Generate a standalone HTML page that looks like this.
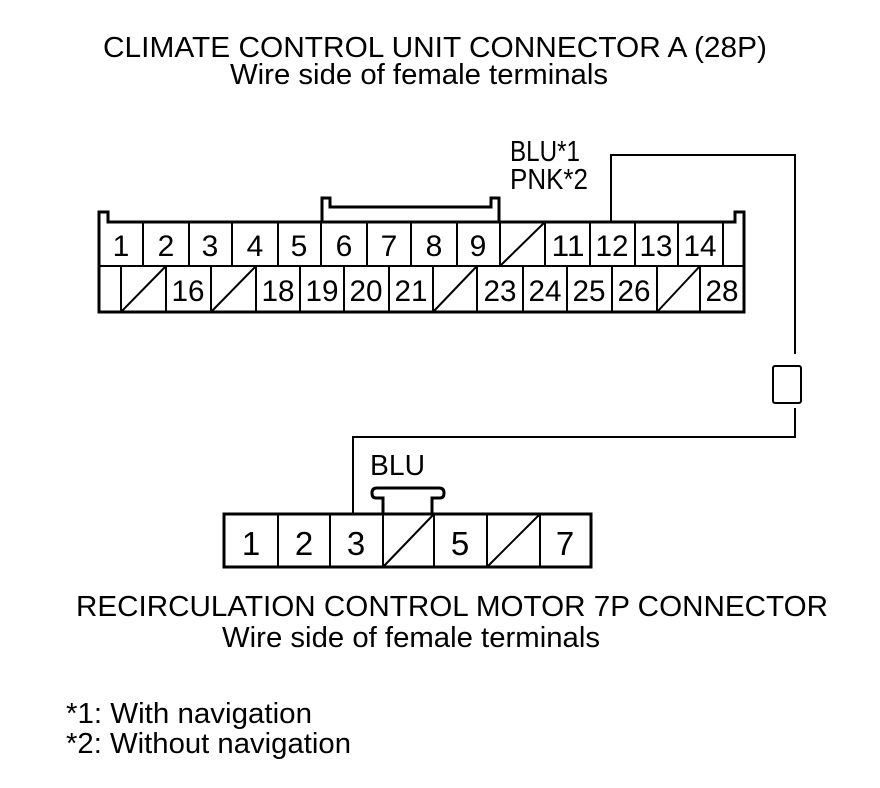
<!DOCTYPE html>
<html><head><meta charset="utf-8"><style>
html,body{margin:0;padding:0;background:#fff;}
svg{display:block;}
text{font-family:"Liberation Sans",sans-serif;fill:#000;}
</style></head><body>
<svg width="880" height="788" viewBox="0 0 880 788" xmlns="http://www.w3.org/2000/svg">
<g font-size="29">
<text x="103" y="57" textLength="664" lengthAdjust="spacingAndGlyphs">CLIMATE CONTROL UNIT CONNECTOR A (28P)</text>
<text x="230" y="84" textLength="378" lengthAdjust="spacingAndGlyphs">Wire side of female terminals</text>
<text x="510" y="161" textLength="70" lengthAdjust="spacingAndGlyphs">BLU*1</text>
<text x="510" y="189" textLength="78" lengthAdjust="spacingAndGlyphs">PNK*2</text>
<text x="76" y="616" textLength="752" lengthAdjust="spacingAndGlyphs">RECIRCULATION CONTROL MOTOR 7P CONNECTOR</text>
<text x="222" y="647" textLength="378" lengthAdjust="spacingAndGlyphs">Wire side of female terminals</text>
<text x="66" y="723" textLength="246" lengthAdjust="spacingAndGlyphs">*1: With navigation</text>
<text x="66" y="753" textLength="285" lengthAdjust="spacingAndGlyphs">*2: Without navigation</text>
<text x="370" y="475" textLength="55" lengthAdjust="spacingAndGlyphs">BLU</text>
</g>
<g fill="none" stroke="#000">
<path d="M99 312 V212 H108 V222 H735 V212 H744 V312 Z" stroke-width="3"/>
<path d="M322 222 V198 H330 V207 H491 V198 H499 V222" stroke-width="3"/>
<line x1="99" y1="266" x2="744" y2="266" stroke-width="2"/>
<g stroke-width="2">
<path d="M143 222V266M189 222V266M232 222V266M278 222V266M321 222V266M367 222V266M411 222V266M457 222V266M500 222V266M545 222V266M590 222V266M635 222V266M678 222V266M723 222V266"/>
<path d="M121 266V312M166 266V312M211 266V312M256 266V312M300 266V312M344 266V312M389 266V312M433 266V312M477 266V312M523 266V312M567 266V312M612 266V312M657 266V312M700 266V312"/>
<path d="M500 266L545 222M121 312L166 266M211 312L256 266M433 312L477 266M657 312L700 266"/>
</g>
<path d="M611 222 V155 H795 V354" stroke-width="2"/>
<rect x="773" y="366" width="28" height="37" rx="2" stroke-width="2"/>
<path d="M795 408 V437 H353 V514" stroke-width="2"/>
<rect x="224" y="514" width="367" height="53" stroke-width="3"/>
<path d="M383 514 V498 H376 Q372 498 372 493 Q372 488 377 488 H439 Q444 488 444 493 Q444 498 440 498 H432 V514" stroke-width="3"/>
<g stroke-width="2">
<path d="M278 514V567M330 514V567M383 514V567M434 514V567M487 514V567M540 514V567"/>
<path d="M383 567L434 514M487 567L540 514"/>
</g>
</g>
<g font-size="30" text-anchor="middle">
<text x="121" y="256">1</text><text x="166" y="256">2</text><text x="210" y="256">3</text><text x="255" y="256">4</text><text x="299" y="256">5</text><text x="344" y="256">6</text><text x="389" y="256">7</text><text x="434" y="256">8</text><text x="478" y="256">9</text>
<text x="568" y="256" textLength="33" lengthAdjust="spacingAndGlyphs">11</text><text x="612" y="256" textLength="33" lengthAdjust="spacingAndGlyphs">12</text><text x="656" y="256" textLength="33" lengthAdjust="spacingAndGlyphs">13</text><text x="700" y="256" textLength="33" lengthAdjust="spacingAndGlyphs">14</text>
<text x="188" y="301" textLength="33" lengthAdjust="spacingAndGlyphs">16</text><text x="278" y="301" textLength="33" lengthAdjust="spacingAndGlyphs">18</text><text x="322" y="301" textLength="33" lengthAdjust="spacingAndGlyphs">19</text><text x="366" y="301" textLength="33" lengthAdjust="spacingAndGlyphs">20</text><text x="411" y="301" textLength="33" lengthAdjust="spacingAndGlyphs">21</text><text x="500" y="301" textLength="33" lengthAdjust="spacingAndGlyphs">23</text><text x="545" y="301" textLength="33" lengthAdjust="spacingAndGlyphs">24</text><text x="589" y="301" textLength="33" lengthAdjust="spacingAndGlyphs">25</text><text x="634" y="301" textLength="33" lengthAdjust="spacingAndGlyphs">26</text><text x="722" y="301" textLength="33" lengthAdjust="spacingAndGlyphs">28</text>
</g>
<g font-size="33" text-anchor="middle">
<text x="251" y="555">1</text><text x="304" y="555">2</text><text x="356" y="555">3</text><text x="460" y="555">5</text><text x="565" y="555">7</text>
</g>
</svg>
</body></html>
